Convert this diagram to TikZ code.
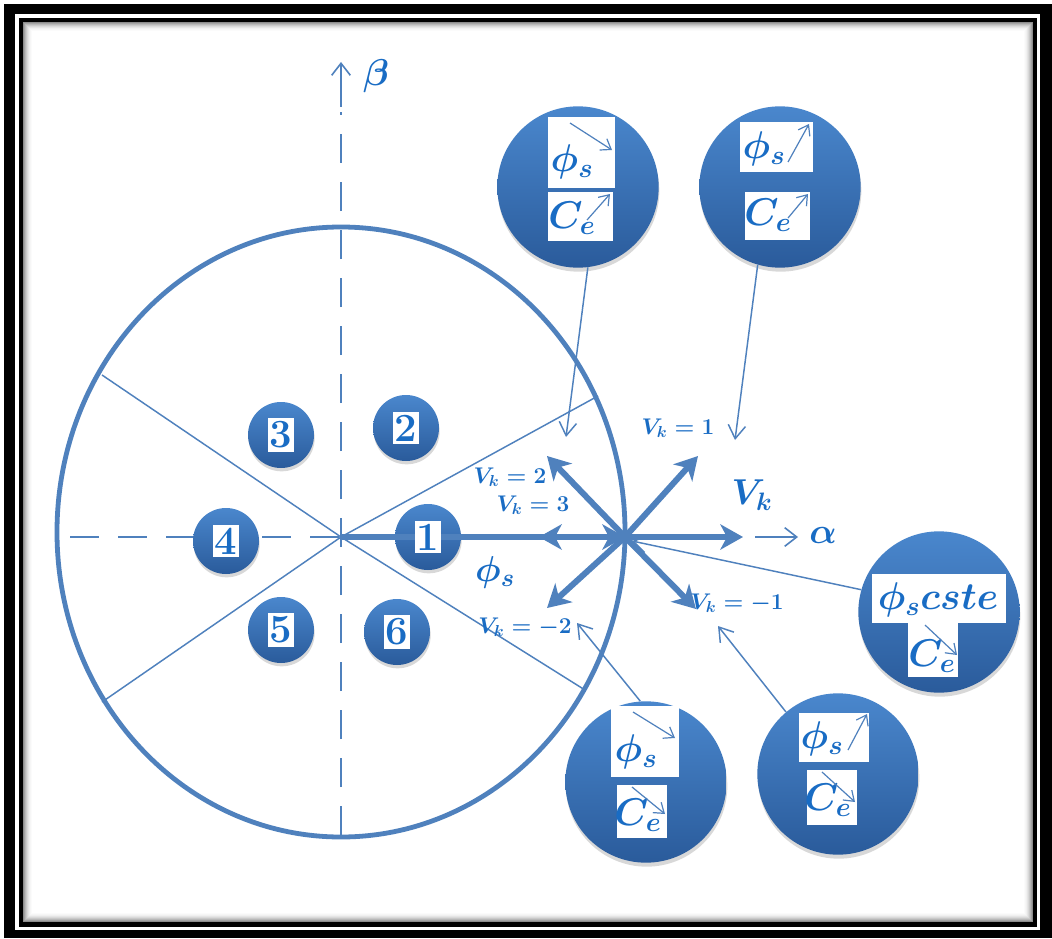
\RequirePackage{fix-cm}
\documentclass[tikz,border=0pt]{standalone}
\usepackage{amsmath,bm}
\usetikzlibrary{arrows.meta,shadows}
\definecolor{lb}{RGB}{79,129,189}
\definecolor{tb}{RGB}{25,108,196}
\definecolor{ctop}{RGB}{74,135,205}
\definecolor{cbot}{RGB}{42,91,155}
\newcommand{\fsz}[1]{\fontsize{#1}{#1}\selectfont}
\tikzset{
  sect/.style={circle, minimum size=49.5pt, inner sep=0pt, top color=ctop, bottom color=cbot,
    drop shadow={opacity=0.3, shadow xshift=0.5pt, shadow yshift=-2.5pt}},
  call/.style={circle, minimum size=121pt, inner sep=0pt, top color=ctop, bottom color=cbot,
    drop shadow={opacity=0.3, shadow xshift=0.5pt, shadow yshift=-3pt}},
  numbox/.style={fill=white, text=tb, inner xsep=1.2pt, inner ysep=2.5pt, font=\bfseries\fsz{30}},
  lab/.style={text=tb, inner sep=0pt, font=\fsz{17}\boldmath},
  big/.style={text=tb, inner sep=0pt, font=\fsz{27}\boldmath},
  ctext/.style={text=tb, inner sep=0pt, font=\fsz{29}\boldmath},
  thin line/.style={draw=lb, line width=1.1pt},
  axis/.style={draw=lb, line width=1.2pt, dash pattern=on 22pt off 14pt},
  conn/.style={draw=lb, line width=1.1pt, -{Straight Barb[length=10pt,width=13pt]}},
  sarr/.style={draw=lb, line width=0.9pt, -{Straight Barb[length=7pt,width=10pt]}},
  thk/.style={draw=lb, line width=4.5pt, -{Stealth[length=17pt,width=19pt,inset=5pt]}},
}
\begin{document}
\begin{tikzpicture}[x=0.75pt,y=-0.75pt]
\useasboundingbox (0,0) rectangle (1052,938);
% frame
\fill[black] (4,4) rectangle (1052,938);
\fill[white] (15,14) rectangle (1040,930);
\fill[black] (19,18) rectangle (1037,927);
\fill[white] (23,22) rectangle (1033,922);
\foreach \d/\o in {0.5/0.45,1.5/0.36,2.5/0.28,3.5/0.21,4.5/0.15,5.5/0.1,6.5/0.06,7.5/0.035,8.5/0.015}
  \draw[black, draw opacity=\o, line width=0.75pt] ({23+\d},{22+\d}) rectangle ({1033-\d},{922-\d});

\coordinate (O) at (341,537);
\coordinate (P) at (625,537);

% ellipse and sectors
\draw[lb, line width=3.6pt] (341,532) ellipse [x radius=284, y radius=305];
\draw[thin line] (102,375) -- (O) -- (585,690);
\draw[thin line] (102,702) -- (O) -- (598,396);

% axes
\coordinate (ytop) at (341,62);
\coordinate (ybot) at (341,835);
\coordinate (xleft) at (70,537);
\draw[axis] (ybot) -- (341,112);
\draw[draw=lb, line width=1.2pt, -{Straight Barb[length=9pt,width=14pt]}] (341,107) -- (ytop);
\node[big, font=\fsz{28}\boldmath] (beta) at (376,76) {$\beta$};
\draw[axis] (xleft) -- (O);
\coordinate (xa) at (755,537);
\coordinate (xb) at (798,537);
\draw[draw=lb, line width=1.2pt, -{Straight Barb[length=9pt,width=14pt]}] (xa) -- (xb);
\node[big] (alpha) at (823,535) {$\alpha$};

% sector circles
\foreach \n/\x/\y in {1/428/537, 2/406/428, 3/281/435, 4/226/541, 5/281/630, 6/397/632}
  \node[sect] (s\n) at (\x,\y) {};

% thick vectors
\coordinate (v0) at (743,537);
\coordinate (v1) at (698,456);
\coordinate (v2) at (547,456);
\coordinate (v3) at (539,537);
\coordinate (v4) at (547,608);
\coordinate (v5) at (696,609);
\draw[thk] (O) -- (P);
\foreach \v in {v0,v1,v2,v3,v4,v5}
  \draw[thk] (P) -- (\v);

\foreach \n in {1,...,6}
  \node[numbox] (n\n) at (s\n) {\n};

% vector labels
\node[lab] (l1) at (678,428) {$V_k = 1$};
\node[lab] (l2) at (510,477) {$V_k = 2$};
\node[lab] (l3) at (533,505) {$V_k = 3$};
\node[lab] (l4) at (525,627) {$V_k = -2$};
\node[lab] (l5) at (737,603) {$V_k = -1$};
\node[big] (vk) at (752,495) {$V_k$};
\node[big] (phis) at (495,572) {$\phi_s$};

% callout A
\node[call] (A) at (578,187) {};
\fill[white] (548,117) rectangle (615,188);
\node[ctext] (A1) at (572,162) {$\phi_s$};
\draw[sarr] (570,123) -- (612,150);
\fill[white] (548,192) rectangle (613,241);
\node[ctext] (A2) at (572,218) {$C_e$};
\draw[sarr] (587,220) -- (610,194);

% callout B
\node[call] (B) at (780,187) {};
\fill[white] (740,122) rectangle (813,172);
\node[ctext] (B1) at (764,149) {$\phi_s$};
\draw[sarr] (788,162) -- (809,124);
\fill[white] (745,192) rectangle (810,240);
\node[ctext] (B2) at (768,215) {$C_e$};
\draw[sarr] (788,218) -- (808,194);

% callout C
\node[call] (C) at (939,612) {};
\fill[white] (872,574) rectangle (1006,623);
\fill[white] (908,622) rectangle (958,677);
\node[ctext, font=\fsz{29}\boldmath] (C1) at (938,600) {$\phi_s cste$};
\node[ctext] (C2) at (932,656) {$C_e$};
\draw[sarr] (925,625) -- (957,655);

% callout D
\node[call] (D) at (646,782) {};
\fill[white] (611,706) rectangle (679,777);
\node[ctext] (D1) at (636,752) {$\phi_s$};
\draw[sarr] (633,712) -- (675,738);
\fill[white] (617,785) rectangle (667,838);
\node[ctext] (D2) at (638,815) {$C_e$};
\draw[sarr] (632,787) -- (665,814);

% callout E
\node[call] (E) at (838,774) {};
\fill[white] (799,713) rectangle (869,762);
\node[ctext] (E1) at (822,739) {$\phi_s$};
\draw[sarr] (848,750) -- (867,714);
\fill[white] (807,770) rectangle (857,825);
\node[ctext] (E2) at (828,800) {$C_e$};
\draw[sarr] (822,772) -- (855,802);

% connectors
\coordinate (ta) at (566,437);
\coordinate (tb) at (735,440);
\coordinate (tc) at (632,541);
\coordinate (td) at (577,623);
\coordinate (te) at (718,626);
\draw[conn] (A.-83) -- (ta);
\draw[conn] (B.-106) -- (tb);
\draw[conn] (C.164) -- (tc);
\draw[conn] (D.94) -- (td);
\draw[conn] (E.130) -- (te);
\end{tikzpicture}
\end{document}
